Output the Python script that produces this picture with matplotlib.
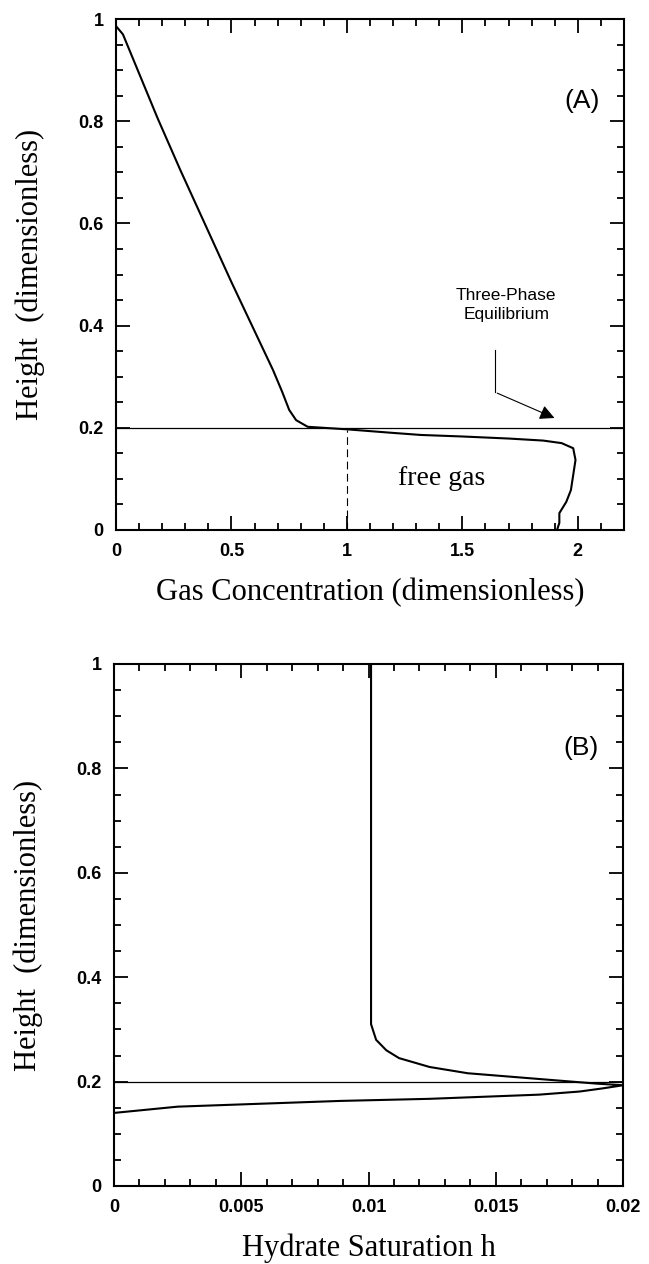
import matplotlib
matplotlib.use("Agg")
import matplotlib.pyplot as plt
from matplotlib.ticker import MultipleLocator, FormatStrFormatter

# panel A: gas concentration profile
gas_x = [0.004, 0.03, 0.18, 0.278, 0.50, 0.68, 0.72, 0.75, 0.78, 0.83, 1.0, 1.2, 1.32, 1.5, 1.7, 1.85, 1.93,
         1.98, 1.99, 1.97, 1.95, 1.92, 1.92, 1.91]
gas_y = [0.984, 0.97, 0.806, 0.705, 0.485, 0.313, 0.27, 0.235, 0.215, 0.202, 0.197, 0.19, 0.186, 0.183, 0.179,
         0.175, 0.170, 0.160, 0.137, 0.078, 0.055, 0.033, 0.014, 0.0]

# panel B: hydrate saturation profile
hyd_h = [0.0101, 0.0101, 0.0103, 0.0107, 0.0112, 0.0124, 0.0139, 0.0167, 0.019, 0.0200,
         0.0192, 0.0183, 0.0167, 0.0124, 0.0089, 0.0025, 0.0]
hyd_y = [1.0, 0.31, 0.28, 0.26, 0.245, 0.228, 0.216, 0.205, 0.196, 0.193,
         0.187, 0.181, 0.175, 0.167, 0.163, 0.152, 0.14]

equilibrium_height = 0.2
free_gas_x = 1.0

serif = ["Liberation Serif", "DejaVu Serif"]
sans = ["Liberation Sans", "DejaVu Sans"]

fig = plt.figure(figsize=(6.49, 12.64), dpi=100)
ax1 = fig.add_axes([116 / 649, 1 - 530 / 1264, 508 / 649, 511 / 1264])
ax2 = fig.add_axes([114 / 649, 1 - 1186 / 1264, 509 / 649, 522 / 1264])


def style(ax, xmaj, xmin):
    ax.set_ylim(0, 1)
    ax.xaxis.set_major_locator(MultipleLocator(xmaj))
    ax.xaxis.set_minor_locator(MultipleLocator(xmin))
    ax.yaxis.set_major_locator(MultipleLocator(0.2))
    ax.yaxis.set_minor_locator(MultipleLocator(0.05))
    ax.xaxis.set_major_formatter(FormatStrFormatter("%g"))
    ax.yaxis.set_major_formatter(FormatStrFormatter("%g"))
    ax.tick_params(which="both", direction="in", top=True, right=True, width=1.3)
    ax.tick_params(which="major", length=10, labelsize=13, pad=9)
    ax.tick_params(which="minor", length=5)
    for s in ax.spines.values():
        s.set_linewidth(1.5)
    for lab in ax.get_xticklabels() + ax.get_yticklabels():
        lab.set_family(sans)
        lab.set_fontweight("bold")
    ax.set_ylabel("Height  (dimensionless)", family=serif, fontsize=22, va="center")
    ax.yaxis.set_label_coords(-0.168, 0.5)


# ---- (A)
ax1.set_xlim(0, 2.2)
style(ax1, 0.5, 0.1)
ax1.plot(gas_x, gas_y, color="black", lw=1.5)
ax1.axhline(equilibrium_height, color="black", lw=0.9)
ax1.plot([free_gas_x, free_gas_x], [0, 0.195], color="black", lw=0.8, ls=(0, (7, 4)))
ax1.text(1.41, 0.1, "free gas", family=serif, fontsize=20, ha="center", va="center")
ax1.text(1.69, 0.44, "Three-Phase\nEquilibrium", family=sans, fontsize=12.5, ha="center", va="center",
         linespacing=1.3)
ax1.plot([1.64, 1.64], [0.352, 0.27], color="black", lw=0.8)
ax1.annotate("", xy=(1.91, 0.217), xytext=(1.64, 0.27),
             arrowprops=dict(arrowstyle="-|>", color="black", lw=0.8, mutation_scale=22))
ax1.text(0.917, 0.84, "(A)", transform=ax1.transAxes, family=sans, fontsize=19, ha="center", va="center")
ax1.set_xlabel("Gas Concentration (dimensionless)", family=serif, fontsize=22, va="center")
ax1.xaxis.set_label_coords(0.5, -0.123)

# ---- (B)
ax2.set_xlim(0, 0.02)
style(ax2, 0.005, 0.001)
ax2.plot(hyd_h, hyd_y, color="black", lw=1.5)
ax2.axhline(equilibrium_height, color="black", lw=0.9)
ax2.text(0.917, 0.84, "(B)", transform=ax2.transAxes, family=sans, fontsize=19, ha="center", va="center")
ax2.set_xlabel("Hydrate Saturation h", family=serif, fontsize=22, va="center")
ax2.xaxis.set_label_coords(0.5, -0.119)

fig.savefig("out.png", dpi=100)
